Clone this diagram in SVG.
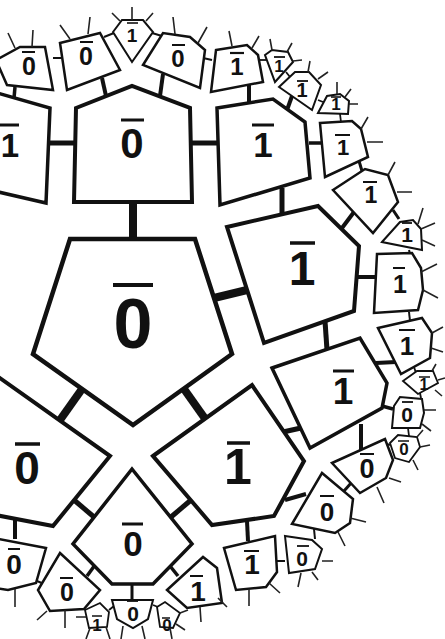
<svg xmlns="http://www.w3.org/2000/svg" width="445" height="639" viewBox="0 0 445 639">
<style>
.t{fill:#fff;stroke:#111;stroke-linejoin:miter}
.lb{font-family:"Liberation Sans",Arial,sans-serif;font-weight:bold;fill:#111;text-anchor:middle}
.ov{stroke:#111}
.sp{stroke:#222;stroke-width:1.6;fill:none}
.c{stroke:#111;fill:none}
</style>
<rect width="445" height="639" fill="#fff"/>
<g id="connectors">
<line class="c" x1="133" y1="202" x2="133" y2="239" stroke-width="8"/>
<line class="c" x1="82" y1="389" x2="60" y2="420" stroke-width="8"/>
<line class="c" x1="184" y1="389" x2="206" y2="420" stroke-width="8"/>
<line class="c" x1="214" y1="298" x2="247" y2="290" stroke-width="8"/>
<line class="c" x1="48" y1="143" x2="74" y2="143" stroke-width="5"/>
<line class="c" x1="192" y1="143" x2="217" y2="143" stroke-width="5"/>
<line class="c" x1="102" y1="78" x2="106" y2="96" stroke-width="4"/>
<line class="c" x1="163" y1="74" x2="160" y2="96" stroke-width="4"/>
<line class="c" x1="15" y1="87" x2="14" y2="98" stroke-width="3.5"/>
<line class="c" x1="282" y1="188" x2="282" y2="213" stroke-width="5"/>
<line class="c" x1="325" y1="321" x2="327" y2="350" stroke-width="5"/>
<line class="c" x1="283" y1="432" x2="301" y2="428" stroke-width="5"/>
<line class="c" x1="74" y1="500" x2="94" y2="517" stroke-width="5"/>
<line class="c" x1="191" y1="500" x2="171" y2="517" stroke-width="5"/>
<line class="c" x1="354" y1="212" x2="342" y2="228" stroke-width="4"/>
<line class="c" x1="356" y1="277" x2="375" y2="277" stroke-width="4"/>
<line class="c" x1="376" y1="363" x2="396" y2="362" stroke-width="4"/>
<line class="c" x1="382" y1="406" x2="393" y2="409" stroke-width="3.5"/>
<line class="c" x1="361" y1="424" x2="361" y2="450" stroke-width="4"/>
<line class="c" x1="285" y1="500" x2="306" y2="494" stroke-width="4"/>
<line class="c" x1="247" y1="521" x2="248" y2="541" stroke-width="4"/>
<line class="c" x1="15" y1="518" x2="15" y2="539" stroke-width="4"/>
<line class="c" x1="95" y1="565" x2="87" y2="576" stroke-width="3.5"/>
<line class="c" x1="170" y1="566" x2="178" y2="576" stroke-width="3.5"/>
<line class="c" x1="132" y1="584" x2="132" y2="600" stroke-width="3"/>
<line class="c" x1="249" y1="85" x2="249" y2="103" stroke-width="4"/>
<line class="c" x1="292" y1="96" x2="287" y2="110" stroke-width="4"/>
<line class="c" x1="309" y1="143" x2="321" y2="143" stroke-width="3.5"/>
<line class="c" x1="359" y1="161" x2="362" y2="171" stroke-width="3"/>
<line class="c" x1="393" y1="210" x2="399" y2="219" stroke-width="3"/>
<line class="c" x1="344" y1="491" x2="352" y2="482" stroke-width="3"/>
<line class="c" x1="53" y1="58" x2="61" y2="58" stroke-width="2"/>
<line class="c" x1="104" y1="37" x2="114" y2="33" stroke-width="2"/>
<line class="c" x1="152" y1="33" x2="162" y2="36" stroke-width="2"/>
<line class="c" x1="203" y1="58" x2="212" y2="60" stroke-width="2"/>
<line class="c" x1="258" y1="60" x2="266" y2="60" stroke-width="1.8"/>
<line class="c" x1="286" y1="72" x2="290" y2="77" stroke-width="1.8"/>
<line class="c" x1="318" y1="100" x2="323" y2="102" stroke-width="1.8"/>
<line class="c" x1="340" y1="114" x2="341" y2="122" stroke-width="1.8"/>
<line class="c" x1="409" y1="250" x2="410" y2="254" stroke-width="2"/>
<line class="c" x1="409" y1="312" x2="410" y2="321" stroke-width="2"/>
<line class="c" x1="414" y1="367" x2="416" y2="373" stroke-width="1.8"/>
<line class="c" x1="420" y1="393" x2="421" y2="398" stroke-width="1.8"/>
<line class="c" x1="408" y1="428" x2="409" y2="436" stroke-width="1.8"/>
<line class="c" x1="386" y1="444" x2="391" y2="445" stroke-width="1.8"/>
<line class="c" x1="314" y1="529" x2="315" y2="539" stroke-width="2"/>
<line class="c" x1="277" y1="561" x2="285" y2="561" stroke-width="2"/>
<line class="c" x1="37" y1="581" x2="44" y2="584" stroke-width="2"/>
<line class="c" x1="109" y1="610" x2="114" y2="606" stroke-width="1.8"/>
<line class="c" x1="153" y1="605" x2="158" y2="607" stroke-width="1.8"/>
</g>
<g id="M"><polygon class="t" stroke-width="4.5" points="70,239 195,239 232,354 133,425 33,354"/><line class="ov" x1="113" y1="285" x2="153" y2="285" stroke-width="4"/><text class="lb" x="133" y="348" font-size="70">0</text></g>
<g id="A"><polygon class="t" stroke-width="4" points="76,108 132,86 190,108 192,202 74,202"/><line class="ov" x1="121" y1="120" x2="144" y2="120" stroke-width="3"/><text class="lb" x="132" y="158" font-size="42">0</text></g>
<g id="B"><polygon class="t" stroke-width="3.5" points="-6,92 50,108 46,203 -6,191"/><line class="ov" x1="-1" y1="125" x2="19" y2="125" stroke-width="3"/><text class="lb" x="10" y="157" font-size="33">1</text></g>
<g id="C"><polygon class="t" stroke-width="3.5" points="217,108 273,99 305,122 310,178 220,205"/><line class="ov" x1="252" y1="125" x2="274" y2="125" stroke-width="3"/><text class="lb" x="263" y="157" font-size="35">1</text></g>
<g id="D"><polygon class="t" stroke-width="4" points="227,227 318,206 359,246 354,311 264,343"/><line class="ov" x1="290" y1="243" x2="315" y2="243" stroke-width="3.5"/><text class="lb" x="302" y="285" font-size="48">1</text></g>
<g id="S"><polygon class="t" stroke-width="4" points="153,456 252,385 304,461 274,516 212,525"/><line class="ov" x1="227" y1="443" x2="250" y2="443" stroke-width="3.5"/><text class="lb" x="238" y="484" font-size="50">1</text></g>
<g id="R"><polygon class="t" stroke-width="3.5" points="272,368 360,338 387,383 382,408 310,448"/><line class="ov" x1="333" y1="371" x2="354" y2="371" stroke-width="3"/><text class="lb" x="343" y="404" font-size="37">1</text></g>
<g id="X"><polygon class="t" stroke-width="3.5" points="132,469 192,544 153,584 112,584 73,544"/><line class="ov" x1="122" y1="524" x2="143" y2="524" stroke-width="3"/><text class="lb" x="133" y="556" font-size="35">0</text></g>
<g id="Y"><polygon class="t" stroke-width="4" points="-10,371 110,456 53,526 -10,514"/><line class="ov" x1="15" y1="444" x2="40" y2="444" stroke-width="3.5"/><text class="lb" x="27" y="484" font-size="46">0</text></g>
<g id="J"><polygon class="t" stroke-width="2.5" points="216,50 247,45 258,55 263,82 211,92"/><line class="ov" x1="230" y1="53" x2="244" y2="53" stroke-width="2.2"/><text class="lb" x="237" y="75" font-size="24">1</text><path class="sp" d="M232,46L229,31M252,48L259,36"/></g>
<g id="H"><polygon class="t" stroke-width="2" points="265,55 272,50 288,52 293,62 275,82"/><line class="ov" x1="274" y1="57" x2="285" y2="57" stroke-width="1.8"/><text class="lb" x="279" y="72" font-size="17">1</text><path class="sp" d="M272,50L270,39M287,52L292,43M293,61L302,60"/></g>
<g id="G"><polygon class="t" stroke-width="2" points="279,87 295,72 309,72 321,85 312,110"/><line class="ov" x1="297" y1="81" x2="308" y2="81" stroke-width="1.8"/><text class="lb" x="302" y="97" font-size="20">1</text><path class="sp" d="M308,72L310,61M318,79L328,72"/></g>
<g id="F"><polygon class="t" stroke-width="2" points="318,113 327,96 340,94 349,101 348,114"/><line class="ov" x1="331" y1="97" x2="341" y2="97" stroke-width="1.6"/><text class="lb" x="336" y="110" font-size="17">1</text><path class="sp" d="M337,94L337,82M345,97L351,89M349,104L358,104"/></g>
<g id="E"><polygon class="t" stroke-width="2.5" points="320,123 352,121 361,129 368,157 325,177"/><line class="ov" x1="335" y1="135" x2="350" y2="135" stroke-width="2"/><text class="lb" x="343" y="155" font-size="22">1</text><path class="sp" d="M361,129L368,117M367,142L383,142"/></g>
<g id="I"><polygon class="t" stroke-width="2.5" points="333,190 365,169 388,175 398,202 373,233"/><line class="ov" x1="363" y1="182" x2="377" y2="182" stroke-width="2"/><text class="lb" x="371" y="203" font-size="23">1</text><path class="sp" d="M388,175L395,162M397,192L412,192"/></g>
<g id="K"><polygon class="t" stroke-width="2" points="382,242 400,222 413,220 421,229 422,250"/><line class="ov" x1="402" y1="223" x2="412" y2="223" stroke-width="1.8"/><text class="lb" x="407" y="242" font-size="21">1</text><path class="sp" d="M418,224L423,208M421,229L435,223M422,240L435,246"/></g>
<g id="L"><polygon class="t" stroke-width="2.5" points="377,254 412,253 421,268 423,290 418,310 374,313"/><line class="ov" x1="393" y1="268" x2="405" y2="268" stroke-width="2"/><text class="lb" x="400" y="293" font-size="25">1</text><path class="sp" d="M421,272L437,264M423,290L438,298"/></g>
<g id="N"><polygon class="t" stroke-width="2.5" points="378,328 422,318 432,333 430,358 401,374"/><line class="ov" x1="399" y1="330" x2="415" y2="330" stroke-width="2"/><text class="lb" x="407" y="355" font-size="26">1</text><path class="sp" d="M432,333L443,327M431,348L443,352"/></g>
<g id="O"><polygon class="t" stroke-width="1.8" points="403,381 417,371 433,371 438,383 418,394"/><line class="ov" x1="419" y1="377" x2="430" y2="377" stroke-width="1.5"/><text class="lb" x="424" y="390" font-size="16">1</text><path class="sp" d="M432,371L436,364M438,380L445,378M435,390L442,396"/></g>
<g id="P"><polygon class="t" stroke-width="2" points="394,406 400,397 422,399 424,413 420,428 392,428"/><line class="ov" x1="402" y1="402" x2="413" y2="402" stroke-width="1.8"/><text class="lb" x="407" y="422" font-size="21">0</text><path class="sp" d="M424,410L436,410M422,424L431,431"/></g>
<g id="Q"><polygon class="t" stroke-width="1.8" points="390,443 398,435 417,437 420,447 409,462 395,458"/><line class="ov" x1="398" y1="441" x2="409" y2="441" stroke-width="1.5"/><text class="lb" x="404" y="455" font-size="17">0</text><path class="sp" d="M420,447L430,445M413,460L418,470M417,437L423,430"/></g>
<g id="T"><polygon class="t" stroke-width="2.5" points="332,463 385,439 393,460 386,478 360,493"/><line class="ov" x1="360" y1="454" x2="374" y2="454" stroke-width="2"/><text class="lb" x="367" y="478" font-size="27">0</text><path class="sp" d="M389,478L401,482M377,487L384,503"/></g>
<g id="U"><polygon class="t" stroke-width="2.5" points="292,524 322,473 353,499 350,523 335,533"/><line class="ov" x1="320" y1="496" x2="334" y2="496" stroke-width="2"/><text class="lb" x="327" y="521" font-size="26">0</text><path class="sp" d="M350,518L366,522M338,532L345,546"/></g>
<g id="V"><polygon class="t" stroke-width="2" points="285,536 312,540 322,549 315,569 289,573"/><line class="ov" x1="297" y1="546" x2="309" y2="546" stroke-width="1.8"/><text class="lb" x="302" y="566" font-size="21">0</text><path class="sp" d="M322,561L333,561M312,572L318,580M301,573L298,587"/></g>
<g id="W"><polygon class="t" stroke-width="2.5" points="224,548 275,536 277,572 266,587 236,590"/><line class="ov" x1="244" y1="551" x2="259" y2="551" stroke-width="2"/><text class="lb" x="252" y="574" font-size="28">1</text><path class="sp" d="M249,589L249,606M269,583L280,593"/></g>
<g id="e"><polygon class="t" stroke-width="2.5" points="167,590 203,557 217,568 222,603 187,608"/><line class="ov" x1="190" y1="576" x2="203" y2="576" stroke-width="2"/><text class="lb" x="198" y="601" font-size="28">1</text><path class="sp" d="M200,607L201,622M218,598L227,607"/></g>
<g id="Z"><polygon class="t" stroke-width="2.5" points="-6,538 46,548 36,583 8,590 -6,588"/><line class="ov" x1="8" y1="549" x2="20" y2="549" stroke-width="2"/><text class="lb" x="14" y="574" font-size="28">0</text><path class="sp" d="M15,589L15,607"/></g>
<g id="a"><polygon class="t" stroke-width="2.5" points="60,553 100,590 84,609 50,611 38,590"/><line class="ov" x1="60" y1="578" x2="73" y2="578" stroke-width="2"/><text class="lb" x="67" y="601" font-size="25">0</text><path class="sp" d="M47,611L37,620M65,610L65,628"/></g>
<g id="b"><polygon class="t" stroke-width="1.8" points="85,610 100,603 109,612 107,627 89,628"/><line class="ov" x1="92" y1="616" x2="102" y2="616" stroke-width="1.5"/><text class="lb" x="97" y="631" font-size="17">1</text><path class="sp" d="M86,617L76,617M90,628L86,639M106,627L110,639"/></g>
<g id="c"><polygon class="t" stroke-width="2" points="112,600 153,600 148,619 133,628 117,619"/><line class="ov" x1="127" y1="601" x2="138" y2="601" stroke-width="1.8"/><text class="lb" x="133" y="621" font-size="21">0</text><path class="sp" d="M123,626L121,639M142,626L145,639"/></g>
<g id="d"><polygon class="t" stroke-width="1.8" points="157,607 165,602 180,613 173,628 160,627"/><line class="ov" x1="162" y1="618" x2="170" y2="618" stroke-width="1.5"/><text class="lb" x="167" y="631" font-size="17">0</text><path class="sp" d="M180,613L188,610M176,624L185,630M170,628L172,639"/></g>
<g id="f"><polygon class="t" stroke-width="2" points="113,32 122,20 143,20 153,32 132,62"/><line class="ov" x1="127" y1="23" x2="138" y2="23" stroke-width="1.6"/><text class="lb" x="132" y="42" font-size="19">1</text><path class="sp" d="M132,7L132,20M112,13L120,21M153,13L146,21"/></g>
<g id="g"><polygon class="t" stroke-width="2.5" points="60,43 92,35 100,33 120,70 67,90"/><line class="ov" x1="80" y1="42" x2="93" y2="42" stroke-width="2"/><text class="lb" x="86" y="65" font-size="25">0</text><path class="sp" d="M90,17L88,34M60,25L70,39"/></g>
<g id="h"><polygon class="t" stroke-width="2.5" points="143,65 163,33 190,37 205,50 200,88"/><line class="ov" x1="172" y1="45" x2="185" y2="45" stroke-width="2"/><text class="lb" x="178" y="67" font-size="24">0</text><path class="sp" d="M173,17L175,34M207,27L198,43"/></g>
<g id="i"><polygon class="t" stroke-width="2.5" points="-4,60 20,47 45,47 53,90 7,85"/><line class="ov" x1="22" y1="52" x2="35" y2="52" stroke-width="2"/><text class="lb" x="29" y="75" font-size="25">0</text><path class="sp" d="M33,30L32,47M8,33L15,48"/></g>
</svg>
